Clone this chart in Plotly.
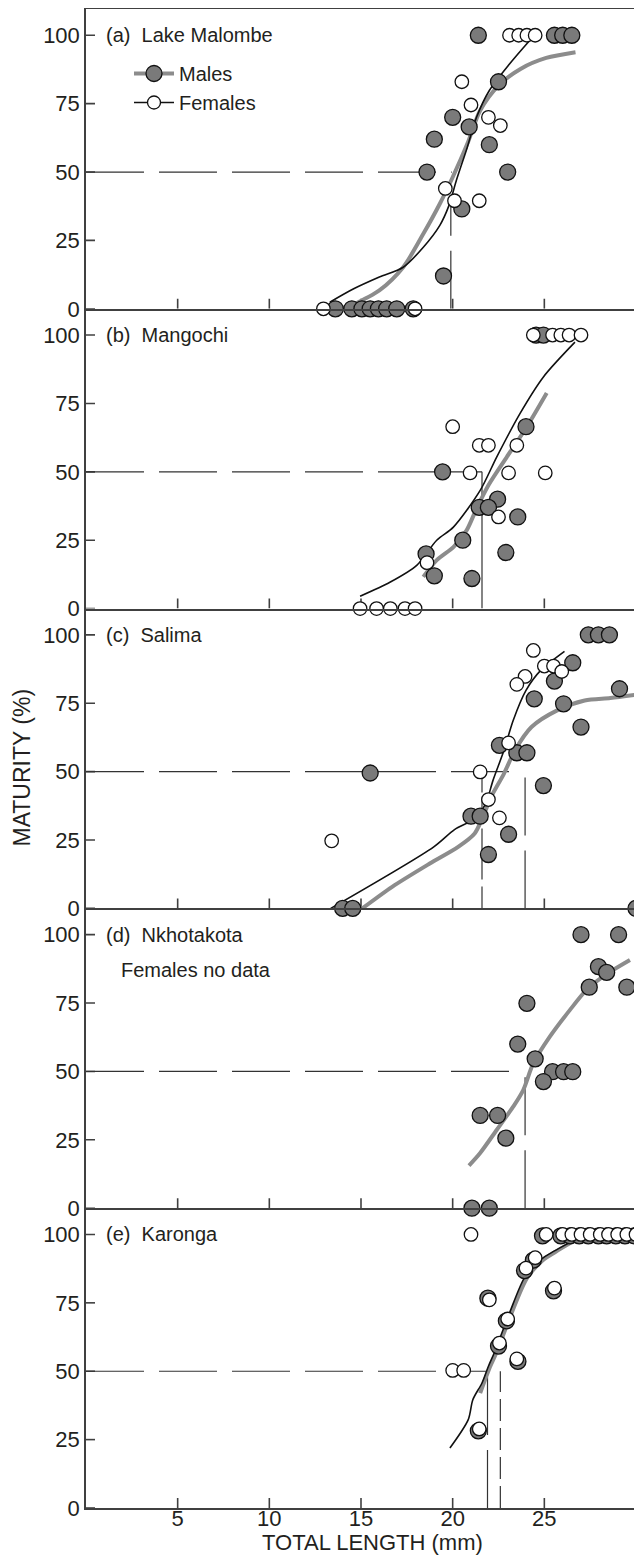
import plotly.graph_objects as go
from plotly.subplots import make_subplots

# ---------------- data ----------------
panel_labels = ["(a)  Lake Malombe", "(b)  Mangochi", "(c)  Salima", "(d)  Nkhotakota", "(e)  Karonga"]
x_ticks = [5, 10, 15, 20, 25]
y_ticks = [0, 25, 50, 75, 100]

# (a) Lake Malombe
a_male_x = [21.4, 25.55, 26.0, 26.5, 22.5, 20.0, 20.9, 19.0, 22.0, 18.6, 23.0, 20.5, 19.5,
            13.6, 14.5, 15.05, 15.5, 15.95, 16.4, 16.95, 17.85]
a_male_y = [100, 100, 100, 100, 83, 70, 66.5, 62, 60, 50, 50, 36.5, 12,
            0, 0, 0, 0, 0, 0, 0, 0]
a_female_x = [23.1, 23.6, 24.05, 24.5, 20.5, 21.0, 21.95, 22.6, 19.6, 20.1, 21.45, 12.95, 17.95]
a_female_y = [100, 100, 100, 100, 83, 74.5, 70, 67, 44, 39.5, 39.5, 0, 0]
a_male_fit_x = [14.5, 16.0, 17.3, 18.4, 19.3, 20.0, 20.8, 21.5, 22.5, 23.7, 25.1, 26.7]
a_male_fit_y = [1.2, 6.7, 15.2, 27.4, 38.4, 48.1, 60.3, 72.5, 81.6, 87.7, 91.7, 93.8]
a_female_fit_x = [13.3, 14.6, 16.0, 17.3, 18.4, 19.3, 19.8, 20.2, 20.8, 21.3, 22.0, 23.1, 24.2]
a_female_fit_y = [2.4, 7.3, 11.6, 15.2, 22.5, 30.5, 37.8, 46.9, 59.1, 70.0, 79.8, 89.5, 98.1]

# (b) Mangochi
b_male_x = [24.55, 24.95, 24.0, 19.45, 22.45, 21.45, 21.95, 23.55, 20.55, 18.55, 22.9, 19.0, 21.05]
b_male_y = [100, 100, 66.5, 50, 40, 37, 37, 33.5, 25, 20, 20.5, 12, 11]
b_female_x = [24.4, 25.45, 25.9, 26.35, 27.0, 20.0, 21.45, 21.95, 23.5, 20.95, 23.05, 25.05,
              22.5, 18.6, 14.95, 15.85, 16.6, 17.4, 17.95]
b_female_y = [100, 100, 100, 100, 100, 66.5, 59.7, 59.7, 59.7, 49.6, 49.6, 49.6,
              33.5, 16.8, 0, 0, 0, 0, 0]
b_male_fit_x = [18.4, 19.13, 20.04, 20.76, 21.3, 21.95, 22.95, 24.04, 25.13]
b_male_fit_y = [11.6, 17.7, 22.5, 28.6, 36.5, 45.1, 55.4, 66.4, 78.8]
b_female_fit_x = [14.95, 16.6, 18.04, 19.13, 20.04, 21.5, 22.4, 23.67, 24.95, 26.67]
b_female_fit_y = [4.5, 9.7, 15.8, 25.0, 29.8, 43.2, 55.4, 71.3, 84.7, 97.4]

# (c) Salima
c_male_x = [27.4, 27.95, 28.55, 26.55, 25.55, 29.1, 24.45, 26.05, 27.0, 22.55, 23.5, 24.05,
            15.5, 24.95, 21.0, 21.5, 23.05, 21.95, 14.0, 14.55, 30.0]
c_male_y = [100, 100, 100, 89.8, 83.1, 80.3, 76.6, 74.8, 66.3, 59.6, 56.9, 56.9,
            49.5, 44.9, 33.7, 33.7, 27.1, 19.7, 0, 0, 0]
c_female_x = [24.4, 25.0, 25.5, 25.95, 23.95, 23.5, 23.05, 21.5, 21.95, 22.55, 13.4]
c_female_y = [94.3, 88.6, 88.6, 86.6, 84.8, 81.9, 60.5, 49.9, 39.8, 33.1, 24.7]
c_male_fit_x = [15.07, 16.7, 18.75, 20.3, 21.2, 21.65, 22.1, 22.8, 23.4, 24.3, 25.7, 27.2, 28.6, 30.0]
c_male_fit_y = [0, 7.9, 16.4, 22.5, 27.4, 33.5, 40.8, 49.3, 57.8, 66.3, 72.4, 76.0, 76.9, 78.1]
c_female_fit_x = [13.35, 18.97, 20.1, 21.2, 21.8, 22.2, 22.8, 23.3, 24.0, 24.8, 26.1]
c_female_fit_y = [0, 22.5, 28.8, 32.8, 38.3, 46.8, 57.8, 68.7, 79.7, 87.0, 94.0]

# (d) Nkhotakota (males only)
d_male_x = [27.0, 29.05, 27.95, 28.4, 27.45, 29.5, 24.05, 23.55, 24.5, 25.45, 26.05, 26.55,
            24.95, 21.5, 22.45, 22.9, 21.05, 22.0]
d_male_y = [100, 100, 88.3, 86.2, 80.8, 80.8, 74.9, 60.0, 54.6, 49.9, 49.9, 49.9,
            46.3, 33.9, 33.9, 25.6, 0, 0]
d_male_fit_x = [20.89, 21.49, 22.4, 23.3, 23.85, 24.4, 25.3, 26.4, 27.3, 28.2, 29.67]
d_male_fit_y = [15.6, 20.1, 28.6, 37.1, 43.2, 53.0, 62.7, 72.5, 79.8, 84.7, 90.7]

# (e) Karonga
e_male_x = [24.9, 25.9, 26.4, 26.9, 27.4, 27.95, 28.4, 28.9, 29.4, 29.9,
            24.4, 23.92, 21.92, 25.5, 22.93, 22.5, 23.56, 21.4]
e_male_y = [99.5, 99.5, 99.5, 99.5, 99.5, 99.5, 99.5, 99.5, 99.5, 99.5,
            90.6, 86.8, 76.7, 79.4, 68.4, 59.2, 53.6, 28.2]
e_female_x = [21.0, 25.1, 26.0, 26.5, 27.0, 27.5, 28.05, 28.5, 29.0, 29.5, 30.0,
              24.5, 24.0, 22.0, 25.55, 23.0, 22.55, 23.5, 21.45, 20.0, 20.6]
e_female_y = [100, 100, 100, 100, 100, 100, 100, 100, 100, 100, 100,
              91.5, 87.7, 76.1, 80.4, 69.1, 60.3, 54.5, 28.9, 50.3, 50.3]
e_male_fit_x = [21.5, 22.0, 22.4, 23.2, 24.05, 24.9, 25.6, 26.5]
e_male_fit_y = [42.0, 51.0, 57.0, 71.0, 84.0, 90.5, 93.6, 97.2]
e_female_fit_x = [19.85, 20.85, 21.1, 21.6, 21.95, 22.3, 23.1, 23.95, 24.8, 25.5, 26.4, 26.6]
e_female_fit_y = [21.9, 32.3, 39.6, 45.7, 51.8, 57.2, 71.3, 84.6, 90.8, 93.8, 97.1, 97.8]

# 50 % maturity reference lines: horizontal end and vertical markers (x, top, style)
hline_end = [19.95, 21.6, 23.45, 23.5, 21.9]
vlines = [
    [(19.9, 39.0, "long")],
    [(21.6, 50.0, "solid")],
    [(21.6, 47.5, "short"), (23.95, 48.0, "long")],
    [(23.95, 48.0, "long")],
    [(21.9, 50.0, "long"), (22.6, 50.0, "short")],
]

panels = [
    (a_male_x, a_male_y, a_female_x, a_female_y, a_male_fit_x, a_male_fit_y, a_female_fit_x, a_female_fit_y),
    (b_male_x, b_male_y, b_female_x, b_female_y, b_male_fit_x, b_male_fit_y, b_female_fit_x, b_female_fit_y),
    (c_male_x, c_male_y, c_female_x, c_female_y, c_male_fit_x, c_male_fit_y, c_female_fit_x, c_female_fit_y),
    (d_male_x, d_male_y, [], [], d_male_fit_x, d_male_fit_y, [], []),
    (e_male_x, e_male_y, e_female_x, e_female_y, e_male_fit_x, e_male_fit_y, e_female_fit_x, e_female_fit_y),
]

# ---------------- style ----------------
FONT = "Liberation Sans, Arial, Helvetica, sans-serif"
TXT = "#231f20"
AX = "#404040"
GRAY_FILL = "#7a7a7a"
GRAY_LINE = "#8c8c8c"
dash_styles = {"long": "58px,15px", "short": "22px,7px", "solid": "solid"}

X_RANGE = [0, 30]
Y_RANGE = [0, 109.6]

# page has an 8px body margin: figure pixel = page pixel - 8
OFF = 8
W, H = 634, 1550
ML, MR, MT, MB = 78, 6, 1, 50
PW = W - ML - MR
PH = H - MT - MB
PANEL_H = PH / 5.0

# inward tick lengths (pixels) converted to axis units
XTICK_LEN = 10 * (Y_RANGE[1] - Y_RANGE[0]) / PANEL_H
YTICK_LEN = 9 * (X_RANGE[1] - X_RANGE[0]) / PW


def px_to_paper_x(page_x):
    return (page_x - OFF - ML) / PW


def px_to_paper_y(page_y):
    return ((MT + PH) - (page_y - OFF)) / PH


fig = make_subplots(rows=5, cols=1, shared_xaxes=True, vertical_spacing=0)

for i, (mx, my, fx, fy, mfx, mfy, ffx, ffy) in enumerate(panels):
    r = i + 1
    # inward tick marks built from the tick value lists
    tx, ty = [], []
    for v in x_ticks:
        tx += [v, v, None]
        ty += [Y_RANGE[0], Y_RANGE[0] + XTICK_LEN, None]
    for v in y_ticks:
        tx += [X_RANGE[0], X_RANGE[0] + YTICK_LEN, None]
        ty += [v, v, None]
    fig.add_trace(go.Scatter(x=tx, y=ty, mode="lines", line=dict(color=AX, width=1.6),
                             showlegend=False, hoverinfo="skip"), row=r, col=1)
    fig.add_trace(go.Scatter(x=[0, hline_end[i]], y=[50, 50], mode="lines",
                             line=dict(color="#333333", width=1.2, dash="58px,15px"),
                             showlegend=False, hoverinfo="skip"), row=r, col=1)
    for (vx, vtop, st) in vlines[i]:
        fig.add_trace(go.Scatter(x=[vx, vx], y=[0, vtop], mode="lines",
                                 line=dict(color="#333333", width=1.2, dash=dash_styles[st]),
                                 showlegend=False, hoverinfo="skip"), row=r, col=1)
    fig.add_trace(go.Scatter(x=mfx, y=mfy, mode="lines",
                             line=dict(color=GRAY_LINE, width=4, shape="spline", smoothing=0.8),
                             showlegend=False, hoverinfo="skip"), row=r, col=1)
    if ffx:
        fig.add_trace(go.Scatter(x=ffx, y=ffy, mode="lines",
                                 line=dict(color="#111111", width=1.6, shape="spline", smoothing=0.8),
                                 showlegend=False, hoverinfo="skip"), row=r, col=1)
    fig.add_trace(go.Scatter(x=mx, y=my, mode="markers", cliponaxis=False,
                             marker=dict(size=16, color=GRAY_FILL, line=dict(color="#111111", width=1.3)),
                             showlegend=False), row=r, col=1)
    if fx:
        fig.add_trace(go.Scatter(x=fx, y=fy, mode="markers", cliponaxis=False,
                                 marker=dict(size=13.5, color="white", line=dict(color="#111111", width=1.3)),
                                 showlegend=False), row=r, col=1)

# legend entries
fig.add_trace(go.Scatter(x=[None], y=[None], mode="lines+markers", name="Males",
                         line=dict(color=GRAY_LINE, width=4),
                         marker=dict(size=16, color=GRAY_FILL, line=dict(color="#111111", width=1.3))),
              row=1, col=1)
fig.add_trace(go.Scatter(x=[None], y=[None], mode="lines+markers", name="Females",
                         line=dict(color="#111111", width=1.5),
                         marker=dict(size=13, color="white", line=dict(color="#111111", width=1.3))),
              row=1, col=1)

layout_axes = {}
for r in range(1, 6):
    sfx = "" if r == 1 else str(r)
    layout_axes[f"xaxis{sfx}"] = dict(
        range=X_RANGE, tickmode="array", tickvals=x_ticks, ticks="",
        showline=True, linecolor=AX, linewidth=1.5, mirror=(r == 1),
        showgrid=False, zeroline=False, automargin=False,
        showticklabels=(r == 5), ticklabelstandoff=-10,
        tickfont=dict(size=22, color=TXT, family=FONT))
    layout_axes[f"yaxis{sfx}"] = dict(
        range=Y_RANGE, tickmode="array", tickvals=y_ticks, ticks="",
        showline=True, linecolor=AX, linewidth=1.5, mirror=True,
        showgrid=False, zeroline=False, automargin=False, ticklabelstandoff=0,
        tickfont=dict(size=22, color=TXT, family=FONT))
fig.update_layout(**layout_axes)

annotations = []
for i, lab in enumerate(panel_labels):
    yref = "y" if i == 0 else f"y{i+1}"
    xref = "x" if i == 0 else f"x{i+1}"
    annotations.append(dict(x=1.0, y=100, xref=xref, yref=yref, text=lab, showarrow=False,
                            xanchor="left", yanchor="middle",
                            font=dict(size=20, color=TXT, family=FONT)))
annotations.append(dict(x=1.8, y=87, xref="x4", yref="y4", text="Females no data", showarrow=False,
                        xanchor="left", yanchor="middle", font=dict(size=20, color=TXT, family=FONT)))
annotations.append(dict(x=px_to_paper_x(372), y=px_to_paper_y(1542), xref="paper", yref="paper",
                        text="TOTAL LENGTH (mm)", showarrow=False, xanchor="center", yanchor="middle",
                        font=dict(size=22, color=TXT, family=FONT)))
annotations.append(dict(x=px_to_paper_x(21.5), y=px_to_paper_y(768), xref="paper", yref="paper",
                        text="MATURITY (%)", textangle=-90, showarrow=False,
                        xanchor="center", yanchor="middle",
                        font=dict(size=23, color=TXT, family=FONT)))

fig.update_layout(
    width=W, height=H,
    margin=dict(l=ML, r=MR, t=MT, b=MB, autoexpand=False),
    paper_bgcolor="white", plot_bgcolor="rgba(0,0,0,0)",
    font=dict(family=FONT, color=TXT),
    showlegend=True,
    legend=dict(x=px_to_paper_x(129), y=px_to_paper_y(54), xanchor="left", yanchor="top",
                bgcolor="rgba(0,0,0,0)", font=dict(size=20, color=TXT, family=FONT),
                itemwidth=40, tracegroupgap=0),
    annotations=annotations,
)

fig.write_html("out.html")
